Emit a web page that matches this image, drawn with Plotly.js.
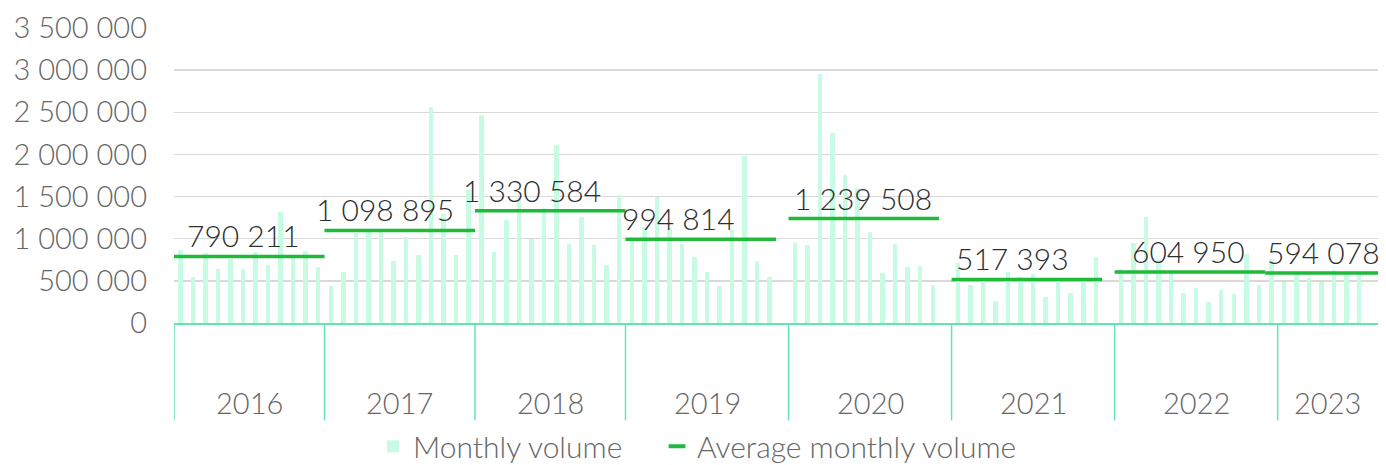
<!DOCTYPE html>
<html>
<head>
<meta charset="utf-8">
<script src="https://cdn.plot.ly/plotly-3.0.1.min.js"></script>
<style>
  html, body { margin: 0; padding: 0; background: #ffffff; }
  #chart { width: 1386px; height: 465px; }
</style>
</head>
<body>
<div id="chart"></div>
<script>
// ---- Data ----
const years = ['2016', '2017', '2018', '2019', '2020', '2021', '2022', '2023'];
// monthly volumes per year group (null = empty slot on the axis)
const vol2016 = [866000, 546000, 830000, 641000, 763000, 641000, 838000, 688000, 1317000, 770000, 854000, 664000];
const vol2017 = [439000, 605000, 1071000, 1090000, 1083000, 739000, 1016000, 803000, 2565000, 1290000, 803000, 1578000];
const vol2018 = [2467000, 842000, 1222000, 1479000, 993000, 1360000, 2111000, 937000, 1257000, 925000, 692000, 1522000];
const vol2019 = [985000, 1135000, 1491000, 1131000, 937000, 787000, 605000, 439000, 1103000, 1981000, 735000, 546000, null];
const vol2020 = [945000, 925000, 2954000, 2250000, 1756000, 1605000, 1079000, 589000, 937000, 664000, 676000, 447000, null];
const vol2021 = [708000, 451000, 530000, 261000, 605000, 540000, 581000, 308000, 520000, 360000, 530000, 787000, null];
const vol2022 = [636000, 953000, 1253000, 747000, 589000, 360000, 415000, 249000, 391000, 340000, 815000, 451000, 759000];
const vol2023 = [490000, 581000, 537000, 490000, 629000, 589000, 597000, null];
const averages = [790211, 1098895, 1330584, 994814, 1239508, 517393, 604950, 594078];
const yTicks = [0, 500000, 1000000, 1500000, 2000000, 2500000, 3000000, 3500000];

// ---- Styling / layout tweaks ----
const barColor = '#c8fbe3';
const avgColor = '#1fba3a';
const axisColor = '#62e6b0';
const labelShift = [-6, -15, -18, -22, -1, -14, -1, 2];

const volumesByYear = [vol2016, vol2017, vol2018, vol2019, vol2020, vol2021, vol2022, vol2023];

// build slot positions
const barX = [], barY = [];
const yearStart = [];
let slot = 0;
volumesByYear.forEach(arr => {
  yearStart.push(slot);
  arr.forEach(v => { barX.push(slot + 0.5); barY.push(v); slot++; });
});
const totalSlots = slot;

function fmt(n) {
  return String(n).replace(/\B(?=(\d{3})+(?!\d))/g, ' ');
}

const traces = [];
traces.push({
  type: 'bar', x: barX, y: barY, name: 'Monthly volume', legend: 'legend',
  width: 0.36, marker: { color: barColor, line: { width: 0 } },
  hoverinfo: 'y'
});

const annotations = [];
const shapes = [];
let prevEnd = 0;
years.forEach((yr, i) => {
  const s = yearStart[i];
  const e = i < years.length - 1 ? yearStart[i + 1] : totalSlots;
  let x0, x1;
  if (i < years.length - 1) { x0 = s; x1 = s + 12; }
  else { x0 = prevEnd; x1 = totalSlots; }
  prevEnd = x1;
  traces.push({
    type: 'scatter', mode: 'lines', x: [x0, x1], y: [averages[i], averages[i]],
    line: { color: avgColor, width: 3.5 }, showlegend: false, hoverinfo: 'y'
  });
  annotations.push({
    x: (x0 + x1) / 2, y: averages[i], xref: 'x', yref: 'y',
    text: fmt(averages[i]), showarrow: false, xanchor: 'center', yanchor: 'bottom',
    xshift: labelShift[i], yshift: 1,
    font: { family: 'Lato', size: 30, color: '#2e2e2e', weight: 300 }
  });
  // year labels
  annotations.push({
    x: (s + e) / 2, y: -0.271, xref: 'x', yref: 'paper',
    text: yr, showarrow: false, xanchor: 'center', yanchor: 'middle',
    font: { family: 'Lato', size: 29, color: '#666666', weight: 300 }
  });
  shapes.push({
    type: 'line', xref: 'x', yref: 'paper', x0: s, x1: s, y0: 0, y1: -0.33,
    line: { color: axisColor, width: 1.5 }
  });
});

// legend-only entry for average line
traces.push({
  type: 'scatter', mode: 'markers', x: [null], y: [null], name: 'Average monthly volume',
  legend: 'legend2',
  marker: { symbol: 'line-ew-open', size: 12, line: { width: 4, color: avgColor }, color: avgColor },
  hoverinfo: 'skip'
});

const legendFont = { family: 'Lato', size: 30, color: '#666666', weight: 300 };
const layout = {
  width: 1386, height: 465,
  margin: { l: 174, r: 8, t: 28, b: 142, autoexpand: false },
  paper_bgcolor: '#ffffff', plot_bgcolor: '#ffffff',
  separators: '. ',
  font: { family: 'Lato', size: 30, color: '#666666' },
  showlegend: true,
  legend: {
    orientation: 'h', x: (373 - 174) / 1204, xanchor: 'left', y: -0.418, yanchor: 'middle',
    font: legendFont, bgcolor: 'rgba(0,0,0,0)'
  },
  legend2: {
    orientation: 'h', x: (657 - 174) / 1204, xanchor: 'left', y: -0.418, yanchor: 'middle',
    font: legendFont, bgcolor: 'rgba(0,0,0,0)'
  },
  xaxis: {
    range: [0, totalSlots], showgrid: false, showticklabels: false, zeroline: false,
    showline: true, linecolor: axisColor, linewidth: 2, ticks: '', fixedrange: true
  },
  yaxis: {
    range: [0, 3500000], tickvals: yTicks, tickformat: ',d', showgrid: true,
    gridcolor: '#d9d9d9', gridwidth: 1.5, zeroline: false, showline: false, ticks: '',
    ticklabelstandoff: 26,
    tickfont: { family: 'Lato', size: 29, color: '#666666', weight: 300 }
  },
  annotations: annotations,
  shapes: shapes,
  bargap: 0
};

Plotly.newPlot('chart', traces, layout, { displayModeBar: false, staticPlot: true });
</script>
</body>
</html>
